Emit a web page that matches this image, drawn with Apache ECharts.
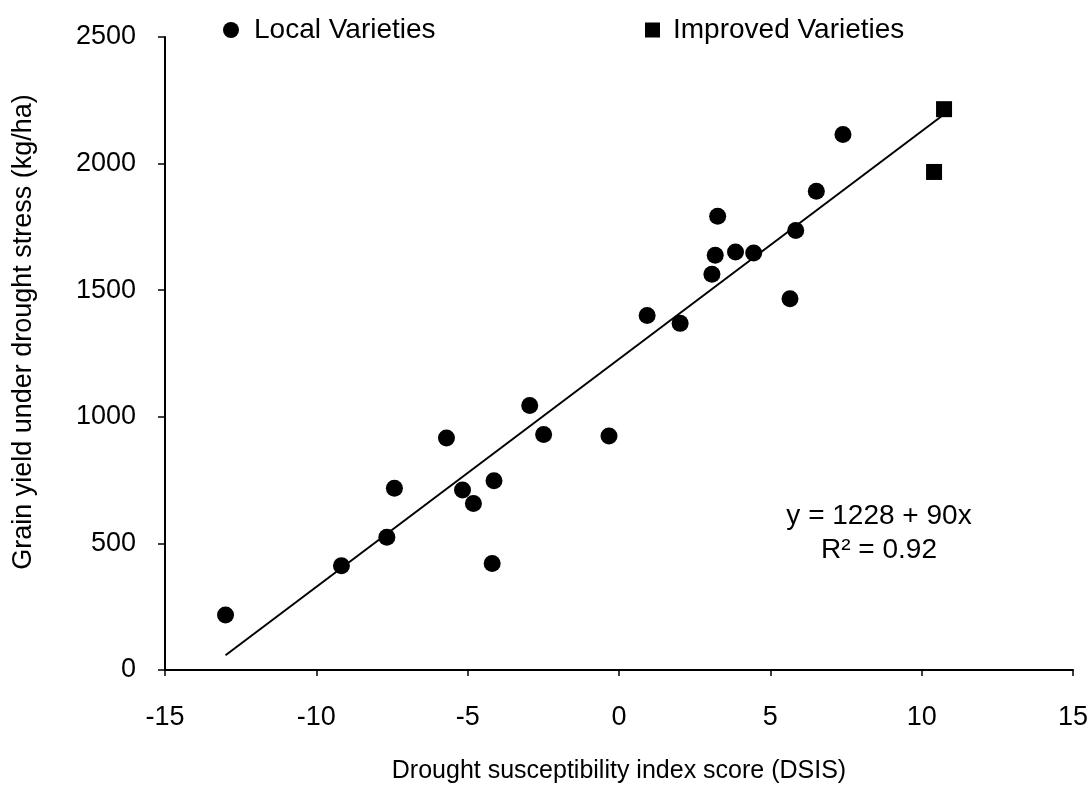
<!DOCTYPE html>
<html>
<head>
<meta charset="utf-8">
<script src="https://cdn.jsdelivr.net/npm/echarts@6/dist/echarts.min.js"></script>
<style>
  html, body { margin: 0; padding: 0; background: #fff; }
  #chart { width: 1091px; height: 790px; }
</style>
</head>
<body>
<div id="chart"></div>
<script>
// local varieties: DSIS score and grain yield (kg/ha)
const localX = [-13.0, -9.17, -7.67, -7.42, -5.70, -5.17, -4.81, -4.13, -4.19, -2.95, -2.49, -0.33,
  0.93, 2.02, 3.07, 3.18, 3.26, 3.85, 4.45, 5.65, 5.84, 6.52, 7.40]
const localY = [217, 412, 524, 718, 916, 711, 658, 747, 421, 1045, 930, 924,
  1400, 1369, 1563, 1638, 1792, 1651, 1647, 1466, 1736, 1891, 2115]
// improved varieties
const improvedX = [10.41, 10.74]
const improvedY = [1967, 2215]
// fitted line end points, y = 1228 + 90x
const fitX = [-13.0, 10.7]
const fitY = [58, 2191]

const xTicks = [-15, -10, -5, 0, 5, 10, 15]
const yTicks = [0, 500, 1000, 1500, 2000, 2500]

const font = 'Liberation Sans, Arial, Helvetica, sans-serif'
const pairs = (xs, ys) => xs.map((x, i) => [x, ys[i]])

const chart = echarts.init(document.getElementById('chart'))
chart.setOption({
  animation: false,
  textStyle: { fontFamily: font, color: '#000' },
  grid: { left: 165, right: 18, top: 37, bottom: 120 },
  legend: [
    {
      data: [{ name: 'Local Varieties', icon: 'circle' }],
      left: 218, top: 11,
      itemWidth: 16, itemHeight: 16,
      textStyle: { fontSize: 28, color: '#000', fontFamily: font, padding: [0, 0, 0, 10] }
    },
    {
      data: [{ name: 'Improved Varieties', icon: 'rect' }],
      left: 640, top: 11,
      itemWidth: 15, itemHeight: 15,
      textStyle: { fontSize: 28, color: '#000', fontFamily: font, padding: [0, 0, 0, 8] }
    }
  ],
  xAxis: {
    type: 'value',
    min: xTicks[0],
    max: xTicks[xTicks.length - 1],
    interval: 5,
    splitLine: { show: false },
    axisLine: { onZero: false, lineStyle: { color: '#000', width: 2 } },
    axisTick: { lineStyle: { color: '#000', width: 1.5 }, length: 6 },
    axisLabel: { fontSize: 27, color: '#000', margin: 34, fontFamily: font, formatter: v => String(v) },
    name: 'Drought susceptibility index score (DSIS)',
    nameLocation: 'middle',
    nameGap: 89,
    nameTextStyle: { fontSize: 25, color: '#000', fontFamily: font }
  },
  yAxis: {
    type: 'value',
    min: yTicks[0],
    max: yTicks[yTicks.length - 1],
    interval: 500,
    splitLine: { show: false },
    axisLine: { onZero: false, lineStyle: { color: '#000', width: 2 } },
    axisTick: { lineStyle: { color: '#000', width: 1.5 }, length: 7 },
    axisLabel: { fontSize: 27, color: '#000', margin: 29, fontFamily: font, formatter: v => String(v) }
  },
  series: [
    {
      name: 'Local Varieties',
      type: 'scatter',
      symbol: 'circle',
      symbolSize: 17,
      itemStyle: { color: '#000', opacity: 1 },
      data: pairs(localX, localY)
    },
    {
      name: 'Improved Varieties',
      type: 'scatter',
      symbol: 'rect',
      symbolSize: 16,
      itemStyle: { color: '#000', opacity: 1 },
      data: pairs(improvedX, improvedY)
    },
    {
      name: 'fit',
      type: 'line',
      symbol: 'none',
      lineStyle: { color: '#000', width: 2 },
      data: pairs(fitX, fitY),
      z: 1
    }
  ],
  graphic: [
    {
      type: 'text',
      x: 24, y: 332,
      rotation: Math.PI / 2,
      style: {
        text: 'Grain yield under drought stress (kg/ha)',
        font: '27px ' + font, fill: '#000',
        align: 'center', verticalAlign: 'middle'
      }
    },
    {
      type: 'text',
      x: 879, y: 516,
      style: {
        text: 'y = 1228 + 90x',
        font: '28px ' + font, fill: '#000',
        align: 'center', verticalAlign: 'middle'
      }
    },
    {
      type: 'text',
      x: 879, y: 550,
      style: {
        text: 'R² = 0.92',
        font: '28px ' + font, fill: '#000',
        align: 'center', verticalAlign: 'middle'
      }
    }
  ]
})
</script>
</body>
</html>
